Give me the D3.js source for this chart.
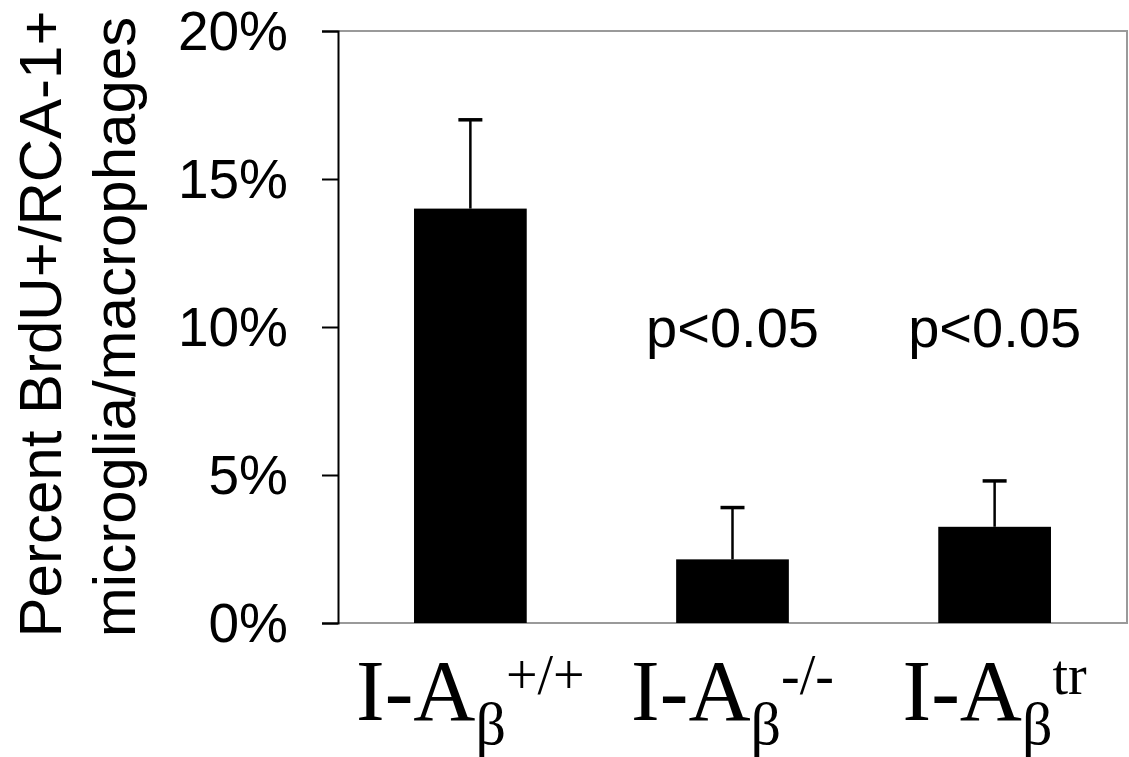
<!DOCTYPE html>
<html>
<head>
<meta charset="utf-8">
<script src="https://cdn.jsdelivr.net/npm/d3@7"></script>
<style>
  body { margin: 0; background: #fff; }
  svg { display: block; }
</style>
</head>
<body>
<svg id="canvas" width="1129" height="757"></svg>
<script>
// values
const groups = ["+/+", "-/-", "tr"];
const means = [14.0, 2.15, 3.25];
const errors = [3.0, 1.75, 1.55];
const pLabels = ["", "p<0.05", "p<0.05"];
const yTicks = [0, 5, 10, 15, 20];
const yTitle = ["Percent BrdU+/RCA-1+", "microglia/macrophages"];

const canvas = d3.select("#canvas");

const plot = { left: 338, right: 1127, top: 31, bottom: 623 };

const x = d3.scaleBand()
  .domain(groups)
  .range([plot.left, plot.right])
  .paddingInner(0.57)
  .paddingOuter(0.29);

const y = d3.scaleLinear()
  .domain([0, 20])
  .range([plot.bottom, plot.top]);

// grey frame on top and right
canvas.append("path")
  .attr("d", `M${plot.left},${plot.top}H${plot.right}V${plot.bottom}H${plot.left}`)
  .attr("fill", "none")
  .attr("stroke", "#9a9a9a")
  .attr("stroke-width", 2);

// bars
canvas.selectAll("rect.bar")
  .data(groups)
  .enter()
  .append("rect")
  .attr("class", "bar")
  .attr("x", (d) => x(d))
  .attr("width", x.bandwidth())
  .attr("y", (d, i) => y(means[i]))
  .attr("height", (d, i) => y(0) - y(means[i]))
  .attr("fill", "#000");

// error bars (upper only)
const err = canvas.selectAll("g.err")
  .data(groups)
  .enter()
  .append("g")
  .attr("class", "err");

err.append("line")
  .attr("x1", (d) => x(d) + x.bandwidth() / 2)
  .attr("x2", (d) => x(d) + x.bandwidth() / 2)
  .attr("y1", (d, i) => y(means[i]))
  .attr("y2", (d, i) => y(means[i] + errors[i]))
  .attr("stroke", "#000")
  .attr("stroke-width", 2.5);

err.append("line")
  .attr("x1", (d) => x(d) + x.bandwidth() / 2 - 12)
  .attr("x2", (d) => x(d) + x.bandwidth() / 2 + 12)
  .attr("y1", (d, i) => y(means[i] + errors[i]))
  .attr("y2", (d, i) => y(means[i] + errors[i]))
  .attr("stroke", "#000")
  .attr("stroke-width", 3.5);

// y axis
const yAxis = canvas.append("g")
  .attr("transform", `translate(${plot.left},0)`)
  .call(d3.axisLeft(y)
    .tickValues(yTicks)
    .tickFormat((d) => d + "%")
    .tickSize(16)
    .tickPadding(34));

yAxis.select(".domain").attr("stroke", "#000").attr("stroke-width", 2);
yAxis.selectAll(".tick line").attr("stroke", "#000").attr("stroke-width", 2);
yAxis.selectAll(".tick text")
  .attr("fill", "#000")
  .attr("dy", "0.34em")
  .style("font-family", "Arial, 'Liberation Sans', sans-serif")
  .style("font-size", "55px");

// y title, two rotated lines
canvas.selectAll("text.ytitle")
  .data(yTitle)
  .enter()
  .append("text")
  .attr("class", "ytitle")
  .attr("transform", (d, i) => `translate(${i === 0 ? 61 : 135},${i === 0 ? 324 : 327}) rotate(-90)`)
  .attr("text-anchor", "middle")
  .style("font-family", "Arial, 'Liberation Sans', sans-serif")
  .style("font-size", "60px")
  .text((d) => d);

// significance labels
canvas.selectAll("text.p")
  .data(groups)
  .enter()
  .append("text")
  .attr("class", "p")
  .attr("x", (d) => x(d) + x.bandwidth() / 2)
  .attr("y", 347)
  .attr("text-anchor", "middle")
  .style("font-family", "Arial, 'Liberation Sans', sans-serif")
  .style("font-size", "56px")
  .text((d, i) => pLabels[i]);

// category labels: I-A with beta subscript and genotype superscript
const cat = canvas.selectAll("text.cat")
  .data(groups)
  .enter()
  .append("text")
  .attr("class", "cat")
  .attr("x", (d) => x(d) + x.bandwidth() / 2)
  .attr("y", 720)
  .attr("text-anchor", "middle")
  .style("font-family", "'Liberation Serif', 'Times New Roman', serif");

cat.append("tspan").style("font-size", "86px").text("I-A");
cat.append("tspan").style("font-size", "60px").attr("dy", 24).text("β");
cat.append("tspan").style("font-size", "56px").attr("dy", -50).text((d) => d);
</script>
</body>
</html>
